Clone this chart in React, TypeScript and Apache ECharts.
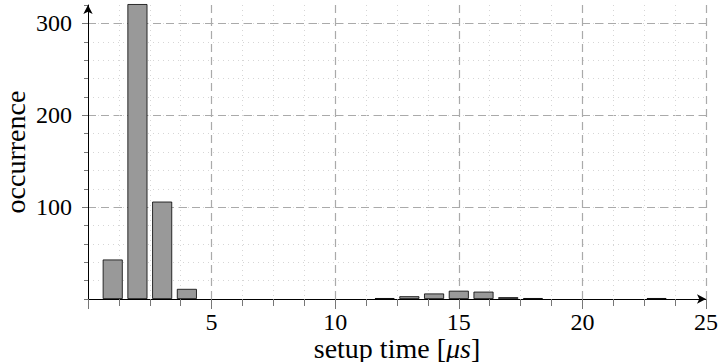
import React, { useEffect, useRef } from "react";
import * as echarts from "echarts";

// histogram bins: bin centre [µs] and occurrence count
const binCenters = [1, 2, 3, 4, 12, 13, 14, 15, 16, 17, 18, 23];
const occurrences = [43, 321, 106, 11, 1, 3, 6, 9, 8, 2, 1, 1];

// axis setup
const xMin = 0;
const xMax = 25;
const xMajorStep = 5;
const yMin = 0;
const yMax = 320;
const yMajorStep = 100;
const yMinorStep = 20;

const xTitle = "setup time [{i|μs}]";
const yTitle = "occurrence";

const FONT = "Liberation Serif";

export default function App() {
  const ref = useRef<HTMLDivElement>(null);
  useEffect(() => {
    if (!ref.current) return;
    const chart = echarts.init(ref.current, null, { renderer: "svg" });
    chart.setOption({
      animation: false,
      backgroundColor: "#fff",
      grid: {
        left: 88,
        right: 13,
        top: 5,
        bottom: 63,
        containLabel: false,
        outerBoundsMode: "none",
      },
      xAxis: {
        type: "value",
        min: xMin,
        max: xMax,
        interval: xMajorStep,
        axisLine: {
          show: true,
          onZero: false,
          symbol: ["none", "arrow"],
          symbolSize: [7, 9],
          lineStyle: { color: "#000", width: 1 },
        },
        axisTick: { show: true, length: 10, lineStyle: { color: "#777", width: 1 } },
        minorTick: { show: true, splitNumber: 4, length: 7, lineStyle: { color: "#777", width: 1 } },
        splitLine: {
          show: true,
          showMinLine: false,
          lineStyle: { color: "#aaa", type: [8, 5], width: 1.2 },
        },
        minorSplitLine: { show: true, lineStyle: { color: "#d6d6d6", type: [1, 4], width: 1 } },
        axisLabel: {
          showMinLabel: false,
          formatter: (v: number) => (v === 0 ? "" : String(v)),
          fontFamily: FONT,
          fontSize: 24,
          lineHeight: 22,
          color: "#000",
          margin: 12,
        },
        name: xTitle,
        nameLocation: "middle",
        nameMoveOverlap: false,
        nameGap: 36,
        nameTextStyle: {
          fontFamily: FONT,
          fontSize: 28,
          lineHeight: 26,
          color: "#000",
          rich: {
            i: { fontFamily: FONT, fontSize: 28, lineHeight: 26, fontStyle: "italic", color: "#000" },
          },
        },
      },
      yAxis: [
        {
          type: "value",
          min: yMin,
          max: yMax,
          interval: yMinorStep,
          position: "left",
          axisLine: {
            show: true,
            onZero: false,
            symbol: ["none", "arrow"],
            symbolSize: [7, 9],
            lineStyle: { color: "#000", width: 1 },
          },
          axisTick: { show: true, length: 4, lineStyle: { color: "#777", width: 1 } },
          splitLine: {
            show: true,
            showMinLine: false,
            showMaxLine: false,
            lineStyle: { color: "#d6d6d6", type: [1, 4], width: 1 },
          },
          axisLabel: { show: false },
        },
        {
          type: "value",
          min: yMin,
          max: yMax,
          interval: yMajorStep,
          position: "left",
          axisLine: { show: false },
          axisTick: { show: true, length: 6, lineStyle: { color: "#777", width: 1 } },
          splitLine: {
            show: true,
            showMinLine: false,
            showMaxLine: false,
            lineStyle: { color: "#aaa", type: [8, 5], width: 1.2 },
          },
          axisLabel: {
            showMinLabel: false,
            showMaxLabel: false,
            formatter: (v: number) => (v % yMajorStep === 0 && v !== 0 ? String(v) : ""),
            fontFamily: FONT,
            fontSize: 24,
            color: "#000",
            margin: 16,
          },
          name: yTitle,
          nameLocation: "middle",
          nameMoveOverlap: false,
          nameGap: 59,
          nameRotate: 90,
          nameTextStyle: { fontFamily: FONT, fontSize: 28, color: "#000" },
        },
      ],
      series: [
        {
          type: "bar",
          xAxisIndex: 0,
          yAxisIndex: 0,
          clip: false,
          barWidth: 20,
          data: binCenters.map((x, i) => [x, occurrences[i]]),
          itemStyle: { color: "#999999", borderColor: "#000", borderWidth: 0.8 },
        },
      ],
    });
    return () => chart.dispose();
  }, []);
  return (
    <div
      ref={ref}
      style={{ position: "fixed", left: 0, top: 0, width: 719, height: 362, background: "#fff" }}
    />
  );
}
